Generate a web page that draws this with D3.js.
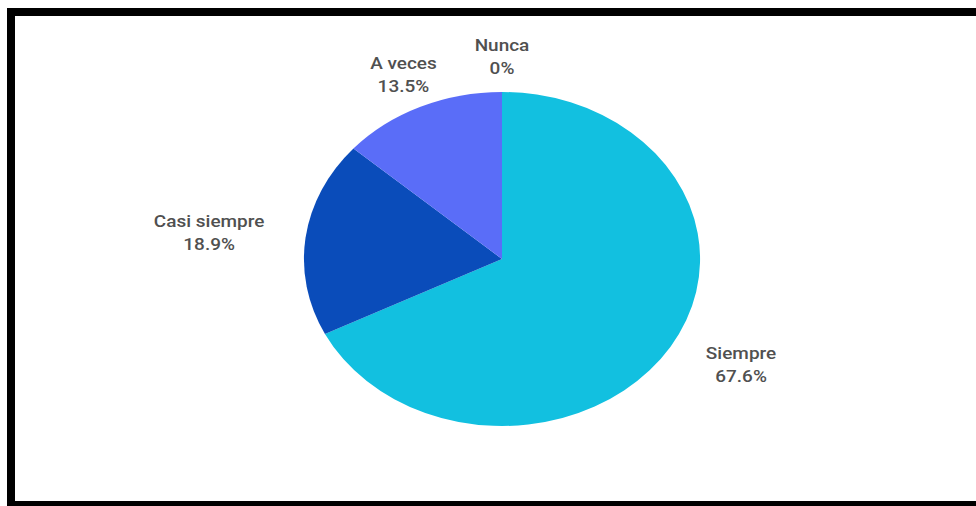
<!DOCTYPE html>
<html>
<head>
<meta charset="utf-8">
<script src="https://cdn.jsdelivr.net/npm/d3@7"></script>
<style>
  html, body { margin: 0; padding: 0; background: #fff; }
  svg { display: block; }
  text { font-family: Roboto, "Noto Sans", sans-serif; }
</style>
</head>
<body>
<svg id="chart" width="976" height="506"></svg>
<script>
const categories = ["Siempre", "Casi siempre", "A veces", "Nunca"];
const values = [67.6, 18.9, 13.5, 0];
const colors = ["#12c0e0", "#0a4cba", "#5a6df8", "#f4b400"];

const W = 976, H = 506;
const svg = d3.select("#chart");

// frame
svg.append("rect")
  .attr("x", 11).attr("y", 12)
  .attr("width", 990).attr("height", 493)
  .attr("fill", "#fff")
  .attr("stroke", "#000")
  .attr("stroke-width", 8);

const cx = 502, cy = 259, r = 167, sx = 1.186, labelR = 202;

const g = svg.append("g")
  .attr("transform", `translate(${cx},${cy}) scale(${sx},1)`);

const pie = d3.pie().sort(null).value(d => d.v);
const data = categories.map((c, i) => ({ c, v: values[i], col: colors[i] }));
const arcs = pie(data);
const arc = d3.arc().innerRadius(0).outerRadius(r);

g.selectAll("path.slice")
  .data(arcs.filter(d => d.data.v > 0))
  .join("path")
  .attr("class", "slice")
  .attr("d", arc)
  .attr("fill", d => d.data.col);

const fontSize = 16, lineH = 23.5;
arcs.forEach(d => {
  const a = (d.startAngle + d.endAngle) / 2;
  const px = labelR * Math.sin(a), py = -labelR * Math.cos(a);
  const lbl = g.append("g");
  const lines = [d.data.c, d3.format(".1~f")(d.data.v) + "%"];
  const texts = lines.map((t, i) => lbl.append("text")
    .attr("text-anchor", "middle")
    .attr("font-size", fontSize)
    .attr("font-weight", 500)
    .attr("fill", "#505050")
    .attr("dy", "0.35em")
    .attr("y", (i - (lines.length - 1) / 2) * lineH)
    .text(t));
  const wMax = d3.max(texts, t => t.node().getComputedTextLength());
  let ox = 0;
  const s = Math.sin(a);
  if (s > 0.5) ox = wMax / 2;
  else if (s < -0.5) ox = -wMax / 2;
  lbl.attr("transform", `translate(${px + ox},${py})`);
});
</script>
</body>
</html>
